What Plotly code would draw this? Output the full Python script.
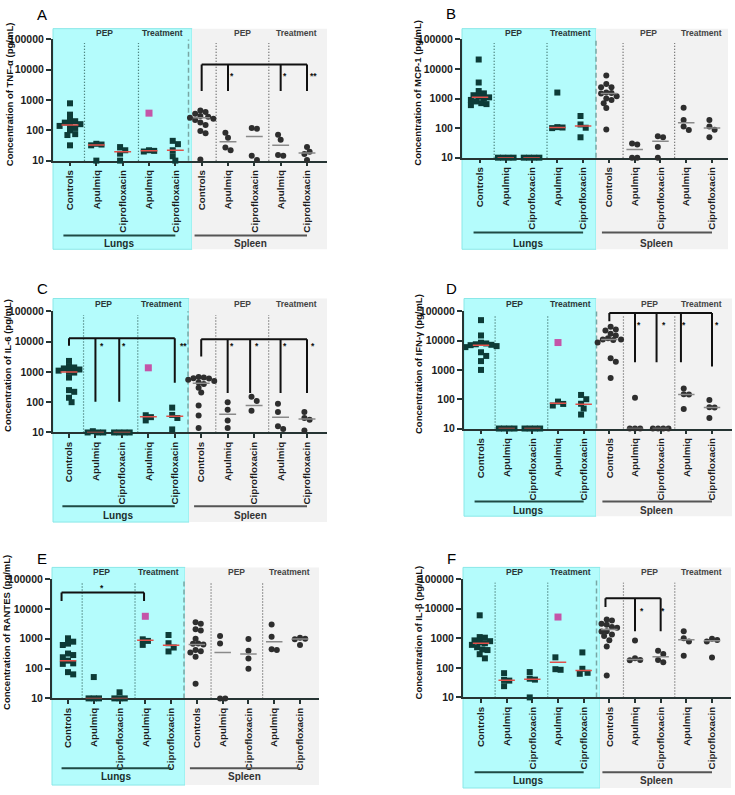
import numpy as np
import plotly.graph_objects as go

W, H = 735, 795
FONT = "Liberation Sans"

CATEGORIES = ["Controls", "Apulmiq", "Ciprofloxacin", "Apulmiq", "Ciprofloxacin",
              "Controls", "Apulmiq", "Ciprofloxacin", "Apulmiq", "Ciprofloxacin"]
Y_TICKS = [10, 100, 1000, 10000, 100000]
Y_TICK_TEXT = ["10", "100", "1000", "10000", "100000"]
SUBGROUP_LABELS = ["PEP", "Treatment", "PEP", "Treatment"]
ORGANS = ["Lungs", "Spleen"]

# ---------------- A : TNF-alpha ----------------
TNF_TITLE = "Concentration of TNF-α (pg/mL)"
TNF_LUNGS = [[780, 330, 220, 200, 180, 160, 150, 140, 120, 100, 75, 70, 32],
             [36, 34, 32, 10],
             [28, 22, 17, 10],
             [22, 21, 20],
             [45, 35, 22, 14, 10]]
TNF_LUNGS_LINE = [150, 33, 19.5, 21, 22]
TNF_SPLEEN = [[450, 400, 350, 300, 280, 260, 240, 220, 180, 150, 95, 80, 11],
              [83, 57, 27, 22],
              [120, 112, 14.5, 10.5],
              [71, 49, 15.3, 14.5],
              [28, 19.6, 16.5, 10.5]]
TNF_SPLEEN_LINE = [260, 42, 63, 32, 18]
TNF_OUTLIER = 370
TNF_SIG = [dict(top=15000, drops=[5, 6, 8, 9], ends=[2000, 2000, 2000, 2000],
                stars=[(6.17, "*"), (8.17, "*"), (9.25, "**")], star_y=6400)]

# ---------------- B : MCP-1 ----------------
MCP_TITLE = "Concentration of MCP-1 (pg/mL)"
MCP_LUNGS = [[21000, 3500, 1800, 1500, 1300, 1150, 1100, 1000, 900, 800, 700, 650, 600],
             [10, 10, 10, 10],
             [10, 10, 10, 10],
             [1600, 108, 105, 100],
             [257, 133, 103, 49]]
MCP_LUNGS_LINE = [1100, 10, 10, 105, 118]
MCP_SPLEEN = [[6000, 3100, 2400, 2400, 1600, 1550, 1500, 1200, 1000, 900, 700, 480, 90],
              [30, 28, 10, 10],
              [53, 49, 23, 10],
              [490, 190, 114, 86],
              [190, 114, 88, 49]]
MCP_SPLEEN_LINE = [1500, 19, 36, 152, 101]
MCP_OUTLIER = None
MCP_SIG = []

# ---------------- C : IL-6 ----------------
IL6_TITLE = "Concentration of IL-6 (pg/mL)"
IL6_LUNGS = [[2300, 1500, 1400, 1300, 1200, 1100, 1000, 950, 650, 250, 220, 140, 100],
             [11, 10, 10, 10],
             [10, 10, 10, 10],
             [37, 32, 25],
             [66, 38, 30, 12.6]]
IL6_LUNGS_LINE = [1000, 10, 10, 33, 34]
IL6_SPLEEN = [[680, 650, 620, 600, 550, 500, 450, 400, 300, 210, 78, 36, 14],
              [99, 56, 25, 14],
              [152, 110, 52],
              [88, 47, 16, 13],
              [47, 30, 26.5, 11.6]]
IL6_SPLEEN_LINE = [420, 40, 77, 32, 28]
IL6_OUTLIER = 1365
IL6_SIG = [dict(top=12900, drops=[0, 1, 1.9, 4], ends=[7300, 104, 104, 440],
                stars=[(1.24, "*"), (2.08, "*"), (4.32, "**")], star_y=7300),
           dict(top=12000, drops=[5, 6, 6.85, 8, 9], ends=[3200, 200, 200, 200, 200],
                stars=[(6.15, "*"), (7.1, "*"), (8.17, "*"), (9.22, "*")], star_y=7300)]

# ---------------- D : IFN-gamma ----------------
IFN_TITLE = "Concentration of IFN-γ (pg/mL)"
IFN_LUNGS = [[50000, 15000, 8500, 8000, 7500, 7200, 7000, 6500, 6000, 4000, 3000, 2000, 1000],
             [10, 10, 10, 10],
             [10, 10, 10, 10],
             [83, 69, 61],
             [140, 100, 70, 48, 30]]
IFN_LUNGS_LINE = [7000, 10, 10, 73, 67]
IFN_SPLEEN = [[30000, 24000, 22000, 17000, 15000, 12000, 11000, 11000, 10500, 8600, 2500, 1900, 530],
              [113, 10, 10, 10],
              [10, 10, 10, 10],
              [230, 148, 145, 46],
              [94, 53, 52, 23]]
IFN_SPLEEN_LINE = [11000, 10, 10, 146, 52]
IFN_OUTLIER = 8600
IFN_SIG = [dict(top=87000, drops=[5, 6, 6.84, 7.79, 9], ends=[46000, 1830, 1830, 1830, 1320],
                stars=[(6.14, "*"), (7.12, "*"), (7.91, "*"), (9.2, "*")], star_y=33000)]

# ---------------- E : RANTES ----------------
RANTES_TITLE = "Concentration of RANTES (pg/mL)"
RANTES_LUNGS = [[1040, 800, 690, 620, 320, 285, 240, 185, 150, 144, 76, 64],
                [52, 10, 10, 10],
                [16, 10, 10, 10],
                [960, 850, 625],
                [1340, 710, 510, 377]]
RANTES_LUNGS_LINE = [185, 10, 10, 890, 610]
RANTES_SPLEEN = [[3600, 3200, 2100, 1900, 1000, 700, 680, 650, 420, 380, 350, 250, 31],
                 [1240, 690, 10, 10],
                 [980, 395, 220, 98],
                 [3000, 1180, 450, 425],
                 [1080, 1000, 960, 620]]
RANTES_SPLEEN_LINE = [650, 350, 307, 800, 980]
RANTES_OUTLIER = 5700
RANTES_SIG = [dict(top=36000, drops=[-0.25, 2.95], ends=[18600, 18600],
                   stars=[(1.33, "*")], star_y=51000)]

# ---------------- F : IL-beta ----------------
ILB_TITLE = "Concentration of IL-β (pg/mL)"
ILB_LUNGS = [[6000, 1100, 1050, 850, 800, 720, 680, 600, 500, 420, 400, 290, 210],
             [66, 39, 37, 24],
             [72, 43, 40, 10],
             [227, 90, 86],
             [333, 93, 68, 63]]
ILB_LUNGS_LINE = [685, 38, 41, 155, 81]
ILB_SPLEEN = [[4300, 4000, 3100, 2900, 2400, 2300, 1750, 1700, 1350, 1200, 860, 525, 55],
              [840, 210, 185, 180],
              [380, 293, 185, 155],
              [1750, 1000, 775, 258],
              [960, 880, 780, 225]]
ILB_SPLEEN_LINE = [2000, 192, 240, 887, 830]
ILB_OUTLIER = 5250
ILB_SIG = [dict(top=22700, drops=[4.85, 6, 7], ends=[11400, 1750, 1750],
                stars=[(6.27, "*"), (7.09, "*")], star_y=8700)]

# ---------------- panel geometry (pixels in the 735x795 page) ----------------
PANELS = [
    dict(letter="A", title=TNF_TITLE, lungs=TNF_LUNGS, spleen=TNF_SPLEEN, lline=TNF_LUNGS_LINE,
         sline=TNF_SPLEEN_LINE, outlier=TNF_OUTLIER, sig=TNF_SIG,
         ax_x=(53, 327), ax_y=(34, 157), cats=(70, 307), bg=(23, 247), cyan_r=192,
         gline_y=233, glabel_y=241, top_y=27, letter_xy=(42, 9), title_x=9),
    dict(letter="B", title=MCP_TITLE, lungs=MCP_LUNGS, spleen=MCP_SPLEEN, lline=MCP_LUNGS_LINE,
         sline=MCP_SPLEEN_LINE, outlier=MCP_OUTLIER, sig=MCP_SIG,
         ax_x=(462, 728), ax_y=(34, 154), cats=(480, 712), bg=(23, 247), cyan_r=596,
         gline_y=230, glabel_y=241, top_y=27, letter_xy=(451, 8), title_x=418),
    dict(letter="C", title=IL6_TITLE, lungs=IL6_LUNGS, spleen=IL6_SPLEEN, lline=IL6_LUNGS_LINE,
         sline=IL6_SPLEEN_LINE, outlier=IL6_OUTLIER, sig=IL6_SIG,
         ax_x=(53, 327), ax_y=(310, 433), cats=(69, 307), bg=(297, 524), cyan_r=189,
         gline_y=508, glabel_y=517, top_y=303, letter_xy=(42, 287), title_x=8),
    dict(letter="D", title=IFN_TITLE, lungs=IFN_LUNGS, spleen=IFN_SPLEEN, lline=IFN_LUNGS_LINE,
         sline=IFN_SPLEEN_LINE, outlier=IFN_OUTLIER, sig=IFN_SIG,
         ax_x=(464, 732), ax_y=(310, 429), cats=(481, 712), bg=(297, 518), cyan_r=596,
         gline_y=503, glabel_y=512, top_y=303, letter_xy=(451, 287), title_x=418),
    dict(letter="E", title=RANTES_TITLE, lungs=RANTES_LUNGS, spleen=RANTES_SPLEEN,
         lline=RANTES_LUNGS_LINE, sline=RANTES_SPLEEN_LINE, outlier=RANTES_OUTLIER, sig=RANTES_SIG,
         ax_x=(52, 319), ax_y=(582, 703), cats=(68, 300), bg=(570, 791), cyan_r=185,
         gline_y=774, glabel_y=782, top_y=575, letter_xy=(42, 561), title_x=7),
    dict(letter="F", title=ILB_TITLE, lungs=ILB_LUNGS, spleen=ILB_SPLEEN, lline=ILB_LUNGS_LINE,
         sline=ILB_SPLEEN_LINE, outlier=ILB_OUTLIER, sig=ILB_SIG,
         ax_x=(463, 731), ax_y=(582, 702), cats=(481, 712), bg=(570, 794), cyan_r=600,
         gline_y=778, glabel_y=786, top_y=575, letter_xy=(451, 561), title_x=418),
]

SUB_POS = [1.3, 3.5, 6.55, 8.6]
DOTTED_POS = [0.55, 2.6, 5.55, 7.55]
ORGAN_SPAN = [(-0.25, 4.0), (4.73, 9.0)]
ORGAN_LABEL_POS = [1.85, 6.85]

CYAN = "#b4fcfc"
CYAN_EDGE = "#8ae8e8"
GRAY_BG = "#f2f2f2"
AX = "#263433"
LUNG_MARK = "#0d3b37"
SPLEEN_MARK = "#2e2e2e"
MAGENTA = "#c455a8"
LUNG_LINE = "#e0504a"
SPLEEN_LINE = "#8a8a8a"


def bold(t):
    return f"<b>{t}</b>"


def swarm(values, ppc, ppd, d=5.2, step=2.6):
    """Simple beeswarm: horizontal offsets (category units) avoiding overlap."""
    order = sorted(range(len(values)), key=lambda i: -values[i])
    placed = []
    offs = [0.0] * len(values)
    cands = [0.0]
    for m in range(1, 20):
        cands += [m * step, -m * step]
    for i in order:
        y = np.log10(values[i]) * ppd
        chosen = cands[-1]
        for c in cands:
            if all((c - px) ** 2 + (y - py) ** 2 >= (d * 0.98) ** 2 for px, py in placed):
                chosen = c
                break
        placed.append((chosen, y))
        offs[i] = chosen
    mid = (max(offs) + min(offs)) / 2.0
    return [(o - mid) / ppc for o in offs]


fig = go.Figure()
layout = dict(width=W, height=H, margin=dict(l=0, r=0, t=0, b=0),
              paper_bgcolor="white", plot_bgcolor="rgba(0,0,0,0)", showlegend=False)
shapes, annotations = [], []


def py2paper(py):
    return 1 - py / H


for i, p in enumerate(PANELS):
    n = i + 1
    xid = "x" if n == 1 else f"x{n}"
    yid = "y" if n == 1 else f"y{n}"
    xkey = "xaxis" if n == 1 else f"xaxis{n}"
    ykey = "yaxis" if n == 1 else f"yaxis{n}"
    ax0, ax1 = p["ax_x"]
    ay0, ay1 = p["ax_y"]
    c0, c9 = p["cats"]
    sp = (c9 - c0) / 9.0
    r0, r1 = (ax0 - c0) / sp, (ax1 - c0) / sp
    ppd = (ay1 - ay0) / 4.0

    def cx(c, c0=c0, sp=sp):
        return (c0 + c * sp) / W

    layout[xkey] = dict(domain=[ax0 / W, ax1 / W], range=[r0, r1], anchor=yid,
                        tickmode="array", tickvals=list(range(10)),
                        ticktext=[bold(c) for c in CATEGORIES],
                        tickangle=-90, ticks="outside", ticklen=3.5, tickwidth=1.5, tickcolor=AX,
                        showline=True, linewidth=2, linecolor=AX, showgrid=False, zeroline=False,
                        tickfont=dict(family=FONT, size=9.8, color="#1c1c1c"),
                        layer="below traces", fixedrange=True)
    layout[ykey] = dict(domain=[py2paper(ay1), py2paper(ay0)], type="log", range=[1, 5], anchor=xid,
                        tickmode="array", tickvals=Y_TICKS, ticktext=[bold(t) for t in Y_TICK_TEXT],
                        ticks="outside", ticklen=5, tickwidth=2, tickcolor=AX,
                        showline=True, linewidth=2, linecolor=AX, showgrid=False, zeroline=False,
                        tickfont=dict(family=FONT, size=10.5, color="#1c1c1c"),
                        fixedrange=True)

    # backgrounds
    by0, by1 = p["bg"]
    shapes.append(dict(type="rect", xref="paper", yref="paper", x0=ax0 / W, x1=p["cyan_r"] / W,
                       y0=py2paper(by1), y1=py2paper(by0), fillcolor=CYAN,
                       line=dict(color=CYAN_EDGE, width=1), layer="below"))
    shapes.append(dict(type="rect", xref="paper", yref="paper", x0=p["cyan_r"] / W, x1=ax1 / W,
                       y0=py2paper(by1), y1=py2paper(by0), fillcolor=GRAY_BG,
                       line=dict(width=0), layer="below"))
    # dotted separators
    for k, xd in enumerate(DOTTED_POS):
        shapes.append(dict(type="line", xref=xid, yref=f"{yid} domain", x0=xd, x1=xd, y0=0, y1=0.97,
                           line=dict(color="#2f5f5a" if k < 2 else "#555555", width=1.2, dash="1px,2px"),
                           layer="below"))
    # dashed organ separator
    shapes.append(dict(type="line", xref=xid, yref=f"{yid} domain", x0=4.5, x1=4.5, y0=0, y1=1,
                       line=dict(color="#79a6a4", width=1.5, dash="5px,3px"), layer="below"))
    # subgroup labels
    for k, (lab, xs) in enumerate(zip(SUBGROUP_LABELS, SUB_POS)):
        annotations.append(dict(xref=xid, yref="paper", x=xs, y=py2paper(p["top_y"]), text=bold(lab),
                                showarrow=False, xanchor="center", yanchor="middle",
                                font=dict(family=FONT, size=8.5, color="#2b3838" if k < 2 else "#444444")))
    # organ lines and labels
    for k, (org, (s0, s1), lx) in enumerate(zip(ORGANS, ORGAN_SPAN, ORGAN_LABEL_POS)):
        shapes.append(dict(type="line", xref="paper", yref="paper", x0=cx(s0), x1=cx(s1),
                           y0=py2paper(p["gline_y"]), y1=py2paper(p["gline_y"]),
                           line=dict(color="#1f4a45" if k == 0 else "#555555", width=2)))
        annotations.append(dict(xref="paper", yref="paper", x=cx(lx), y=py2paper(p["glabel_y"]),
                                text=bold(org), showarrow=False, xanchor="center", yanchor="middle",
                                font=dict(family=FONT, size=10, color="#1a2e2c" if k == 0 else "#333333")))
    # y title
    annotations.append(dict(xref="paper", yref="paper", x=p["title_x"] / W,
                            y=py2paper((ay0 + ay1) / 2 - 6), text=bold(p["title"]), textangle=-90,
                            showarrow=False, xanchor="center", yanchor="middle",
                            font=dict(family=FONT, size=9.5, color="#111111")))
    # panel letter
    lx, ly = p["letter_xy"]
    annotations.append(dict(xref="paper", yref="paper", x=lx / W, y=py2paper(ly), text=p["letter"],
                            showarrow=False, xanchor="center", yanchor="middle",
                            font=dict(family=FONT, size=15, color="#000000")))

    # data points
    groups = p["lungs"] + p["spleen"]
    for g, vals in enumerate(groups):
        lung = g < 5
        offs = swarm(vals, sp, ppd)
        fig.add_trace(go.Scatter(x=[g + o for o in offs], y=vals, mode="markers",
                                 xaxis=xid, yaxis=yid, cliponaxis=False, hoverinfo="skip",
                                 marker=dict(symbol="square" if lung else "circle", size=6,
                                             color=LUNG_MARK if lung else SPLEEN_MARK,
                                             line=dict(width=0))))
    if p["outlier"] is not None:
        fig.add_trace(go.Scatter(x=[3], y=[p["outlier"]], mode="markers", xaxis=xid, yaxis=yid,
                                 cliponaxis=False, hoverinfo="skip",
                                 marker=dict(symbol="square", size=7, color=MAGENTA)))
    # center lines
    for lines, color, base in [(p["lline"], LUNG_LINE, 0), (p["sline"], SPLEEN_LINE, 5)]:
        xs, ys = [], []
        for k, v in enumerate(lines):
            xs += [base + k - 0.32, base + k + 0.32, None]
            ys += [v, v, None]
        fig.add_trace(go.Scatter(x=xs, y=ys, mode="lines", xaxis=xid, yaxis=yid, cliponaxis=False,
                                 hoverinfo="skip", line=dict(color=color, width=1.5)))
    # significance brackets
    for s in p["sig"]:
        xs, ys = [min(s["drops"]), max(s["drops"]), None], [s["top"], s["top"], None]
        for xd, e in zip(s["drops"], s["ends"]):
            xs += [xd, xd, None]
            ys += [s["top"], e, None]
        fig.add_trace(go.Scatter(x=xs, y=ys, mode="lines", xaxis=xid, yaxis=yid, cliponaxis=False,
                                 hoverinfo="skip", line=dict(color="#111111", width=2)))
        for xsx, txt in s["stars"]:
            annotations.append(dict(xref=xid, yref=yid, x=xsx, y=np.log10(s["star_y"]), text=bold(txt),
                                    showarrow=False, xanchor="center", yanchor="middle",
                                    font=dict(family=FONT, size=8.5, color="#111111")))

layout["shapes"] = shapes
layout["annotations"] = annotations
fig.update_layout(**layout)
fig.write_html("out.html")
